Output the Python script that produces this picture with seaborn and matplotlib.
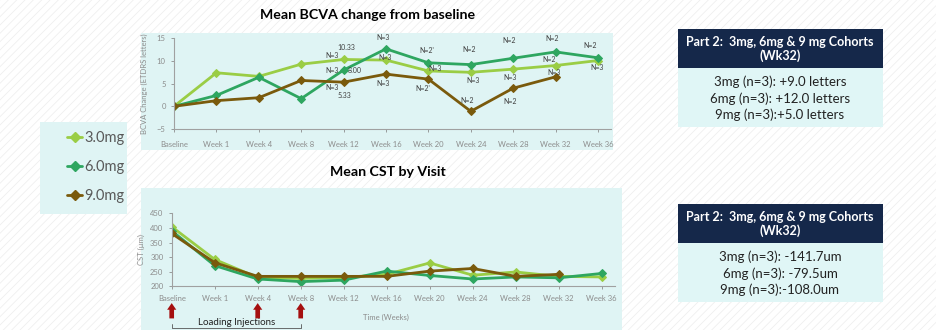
import pandas as pd
import seaborn as sns
import numpy as np
import matplotlib.pyplot as plt
from matplotlib.patches import Rectangle
from matplotlib.lines import Line2D

# data
visits = ['Baseline', 'Week 1', 'Week 4', 'Week 8', 'Week 12', 'Week 16',
          'Week 20', 'Week 24', 'Week 28', 'Week 32', 'Week 36']
doses = ['3.0mg', '6.0mg', '9.0mg']

bcva_3mg = [0, 7.4, 6.6, 9.3, 10.33, 10.2, 7.8, 7.5, 8.2, 9.0, 10.1]
bcva_6mg = [0, 2.4, 6.4, 1.7, 8.0, 12.67, 9.6, 9.2, 10.6, 12.0, 10.7]
bcva_9mg = [0, 1.25, 1.9, 5.7, 5.33, 7.1, 6.0, -1.1, 4.0, 6.5, np.nan]

cst_3mg = [404, 292, 230, 227, 230, 241, 280, 238, 249, 234, 232]
cst_6mg = [390, 271, 225, 216, 221, 252, 237, 225, 232, 229, 244]
cst_9mg = [381, 281, 234, 234, 234, 234, 252, 261, 234, 241, np.nan]

# (dose, visit index, label, dx px, dy px)
n_labels = [
    ('3.0mg', 4, '10.33', 3, 12), ('3.0mg', 4, 'N=3', -12, 4),
    ('6.0mg', 4, 'N=3', -12, 0), ('6.0mg', 4, '8.00', 11, 0),
    ('9.0mg', 4, 'N=3', -12, -5), ('9.0mg', 4, '5.33', 1, -13),
    ('6.0mg', 5, 'N=3', -3, 11), ('3.0mg', 5, 'N=3', -1, 3),
    ('9.0mg', 5, 'N=3', -3, -9),
    ('6.0mg', 6, "N=2'", -2, 12), ('3.0mg', 6, 'N=3', 7, 2),
    ('9.0mg', 6, "N=2'", -6, -9),
    ('6.0mg', 7, 'N=2', -2, 15), ('3.0mg', 7, 'N=3', 2, -8),
    ('9.0mg', 7, 'N=2', -4, 11),
    ('6.0mg', 8, 'N=2', -4, 18), ('3.0mg', 8, 'N=3', -3, -8),
    ('9.0mg', 8, 'N=2', -3, -13),
    ('6.0mg', 9, 'N=2', -4, 13), ('3.0mg', 9, 'N=2', -7, 6),
    ('9.0mg', 9, 'N=3', -2, 4),
    ('6.0mg', 10, 'N=2', -8, 12), ('3.0mg', 10, 'N=3', -1, -7),
]

bcva_box = ['3mg (n=3): +9.0 letters', '6mg (n=3): +12.0 letters', '9mg (n=3):+5.0 letters']
cst_box = ['3mg (n=3): -141.7um', '6mg (n=3): -79.5um', '9mg (n=3):-108.0um']
box_header = 'Part 2:  3mg, 6mg & 9 mg Cohorts\n(Wk32)'

colors = {'3.0mg': '#9acd45', '6.0mg': '#2ea660', '9.0mg': '#7a5a0c'}

bcva = pd.DataFrame({'pos': list(range(len(visits))) * 3,
                     'dose': np.repeat(doses, len(visits)),
                     'value': bcva_3mg + bcva_6mg + bcva_9mg})
cst = pd.DataFrame({'pos': list(range(len(visits))) * 3,
                    'dose': np.repeat(doses, len(visits)),
                    'value': cst_3mg + cst_6mg + cst_9mg})

sns.set_theme(style='white')
plt.rcParams['font.family'] = ['Lato', 'DejaVu Sans']
plt.rcParams['hatch.linewidth'] = 0.6

W, H = 936, 330
fig = plt.figure(figsize=(W / 100, H / 100), dpi=100)


def box(x, y, w, h, **kw):
    # rectangle in pixel coords (y from top)
    r = Rectangle((x / W, 1 - (y + h) / H), w / W, h / H, transform=fig.transFigure, **kw)
    fig.patches.append(r)
    return r


# faint hatched page background + cyan panels
box(0, 0, W, H, facecolor='white', edgecolor='#efefef', hatch='////', lw=0, zorder=-3)
panel = '#dff4f4'
box(141, 33, 472, 117, facecolor=panel, lw=0, zorder=-1)
box(141, 188, 481, 142, facecolor=panel, lw=0, zorder=-1)
box(40, 122, 87, 92, facecolor=panel, lw=0, zorder=-1)

grey = '#8c8c8c'
ax1 = fig.add_axes([174 / W, 1 - 129 / H, 436.7 / W, 90.7 / H])
ax2 = fig.add_axes([171.7 / W, 1 - 286.3 / H, 442.9 / W, 73 / H])

for ax, df in [(ax1, bcva), (ax2, cst)]:
    ax.set_facecolor('none')
    for d in doses:
        sns.lineplot(data=df[df.dose == d], x='pos', y='value', color=colors[d],
                     marker='D', markersize=4.5, markeredgecolor=colors[d],
                     linewidth=2, ax=ax, legend=False)
    ax.set_xlim(0, 10.3)
    ax.set_xticks(range(len(visits)))
    ax.set_xticklabels(visits)
    ax.set_xlabel('')
    for s in ['top', 'right']:
        ax.spines[s].set_visible(False)
    for s in ['left', 'bottom']:
        ax.spines[s].set_color('#a0a0a0')
        ax.spines[s].set_linewidth(0.8)
    ax.tick_params(colors=grey, labelsize=5.5, length=2.5, width=0.6,
                   bottom=True, left=True)

ax1.set_ylim(-5, 15)
ax1.set_yticks([-5, 0, 5, 10, 15])
ax1.tick_params(axis='x', pad=6)
ax1.set_ylabel('BCVA Change (ETDRS letters)', fontsize=5.5, color=grey, labelpad=6)

ax2.set_ylim(200, 450)
ax2.set_yticks(range(200, 451, 50))
ax2.tick_params(axis='x', pad=4)
ax2.set_ylabel('CST (µm)', fontsize=5.5, color=grey, labelpad=4)

# N= annotations on the BCVA chart
series = {'3.0mg': bcva_3mg, '6.0mg': bcva_6mg, '9.0mg': bcva_9mg}
for d, i, txt, dx, dy in n_labels:
    ax1.annotate(txt, (i, series[d][i]), xytext=(dx * 0.72, dy * 0.72),
                 textcoords='offset points', ha='center', va='center',
                 fontsize=5, color='#404040')

# loading injection arrows and bracket
xt = ax2.get_xaxis_transform()
for i in [0, 2, 3]:
    ax2.annotate('', xy=(i, -0.23), xytext=(i, -0.44), xycoords=xt, textcoords=xt,
                 arrowprops=dict(arrowstyle='simple,head_width=0.55,head_length=0.4,tail_width=0.28',
                                 color='#a50f0f', lw=0, shrinkA=0, shrinkB=0))
ax2.plot([0, 0, 3, 3], [-0.52, -0.575, -0.575, -0.52], transform=xt,
         color='#555555', lw=0.6, clip_on=False)
ax2.text(1.5, -0.49, 'Loading Injections', transform=xt, ha='center', va='center',
         fontsize=7, color='#222222')
fig.text(386 / W, 1 - 317 / H, 'Time (Weeks)', ha='center', va='center',
         fontsize=5.5, color=grey)

# titles
fig.text(368 / W, 1 - 15 / H, 'Mean BCVA change from baseline', ha='center', va='center',
         fontsize=10.2, fontweight='bold', color='black')
fig.text(388 / W, 1 - 172 / H, 'Mean CST by Visit', ha='center', va='center',
         fontsize=10.2, fontweight='bold', color='black')

# legend
handles = [Line2D([], [], color=colors[d], marker='D', markersize=5, lw=2,
                  markeredgecolor=colors[d]) for d in doses]
fig.legend(handles, doses, loc='center left', bbox_to_anchor=(60 / W, 1 - 167 / H),
           frameon=False, fontsize=10.5, handlelength=1.0, handletextpad=0.15,
           labelspacing=1.05, labelcolor='#595959', borderpad=0)

# summary boxes
for top, lines in [(29, bcva_box), (204, cst_box)]:
    box(678, top, 205, 39, facecolor='#15284a', lw=0, zorder=-1)
    box(678, top + 39, 205, 59, facecolor='#e0f6f6', lw=0, zorder=-1)
    fig.text(780 / W, 1 - (top + 20) / H, box_header, ha='center', va='center',
             fontsize=9, fontweight='bold', color='white', linespacing=1.2)
    for k, t in enumerate(lines):
        fig.text(780 / W, 1 - (top + 53 + 16.5 * k) / H, t, ha='center', va='center',
                 fontsize=9.5, color='#222222')

fig.savefig('out.png', dpi=100)
